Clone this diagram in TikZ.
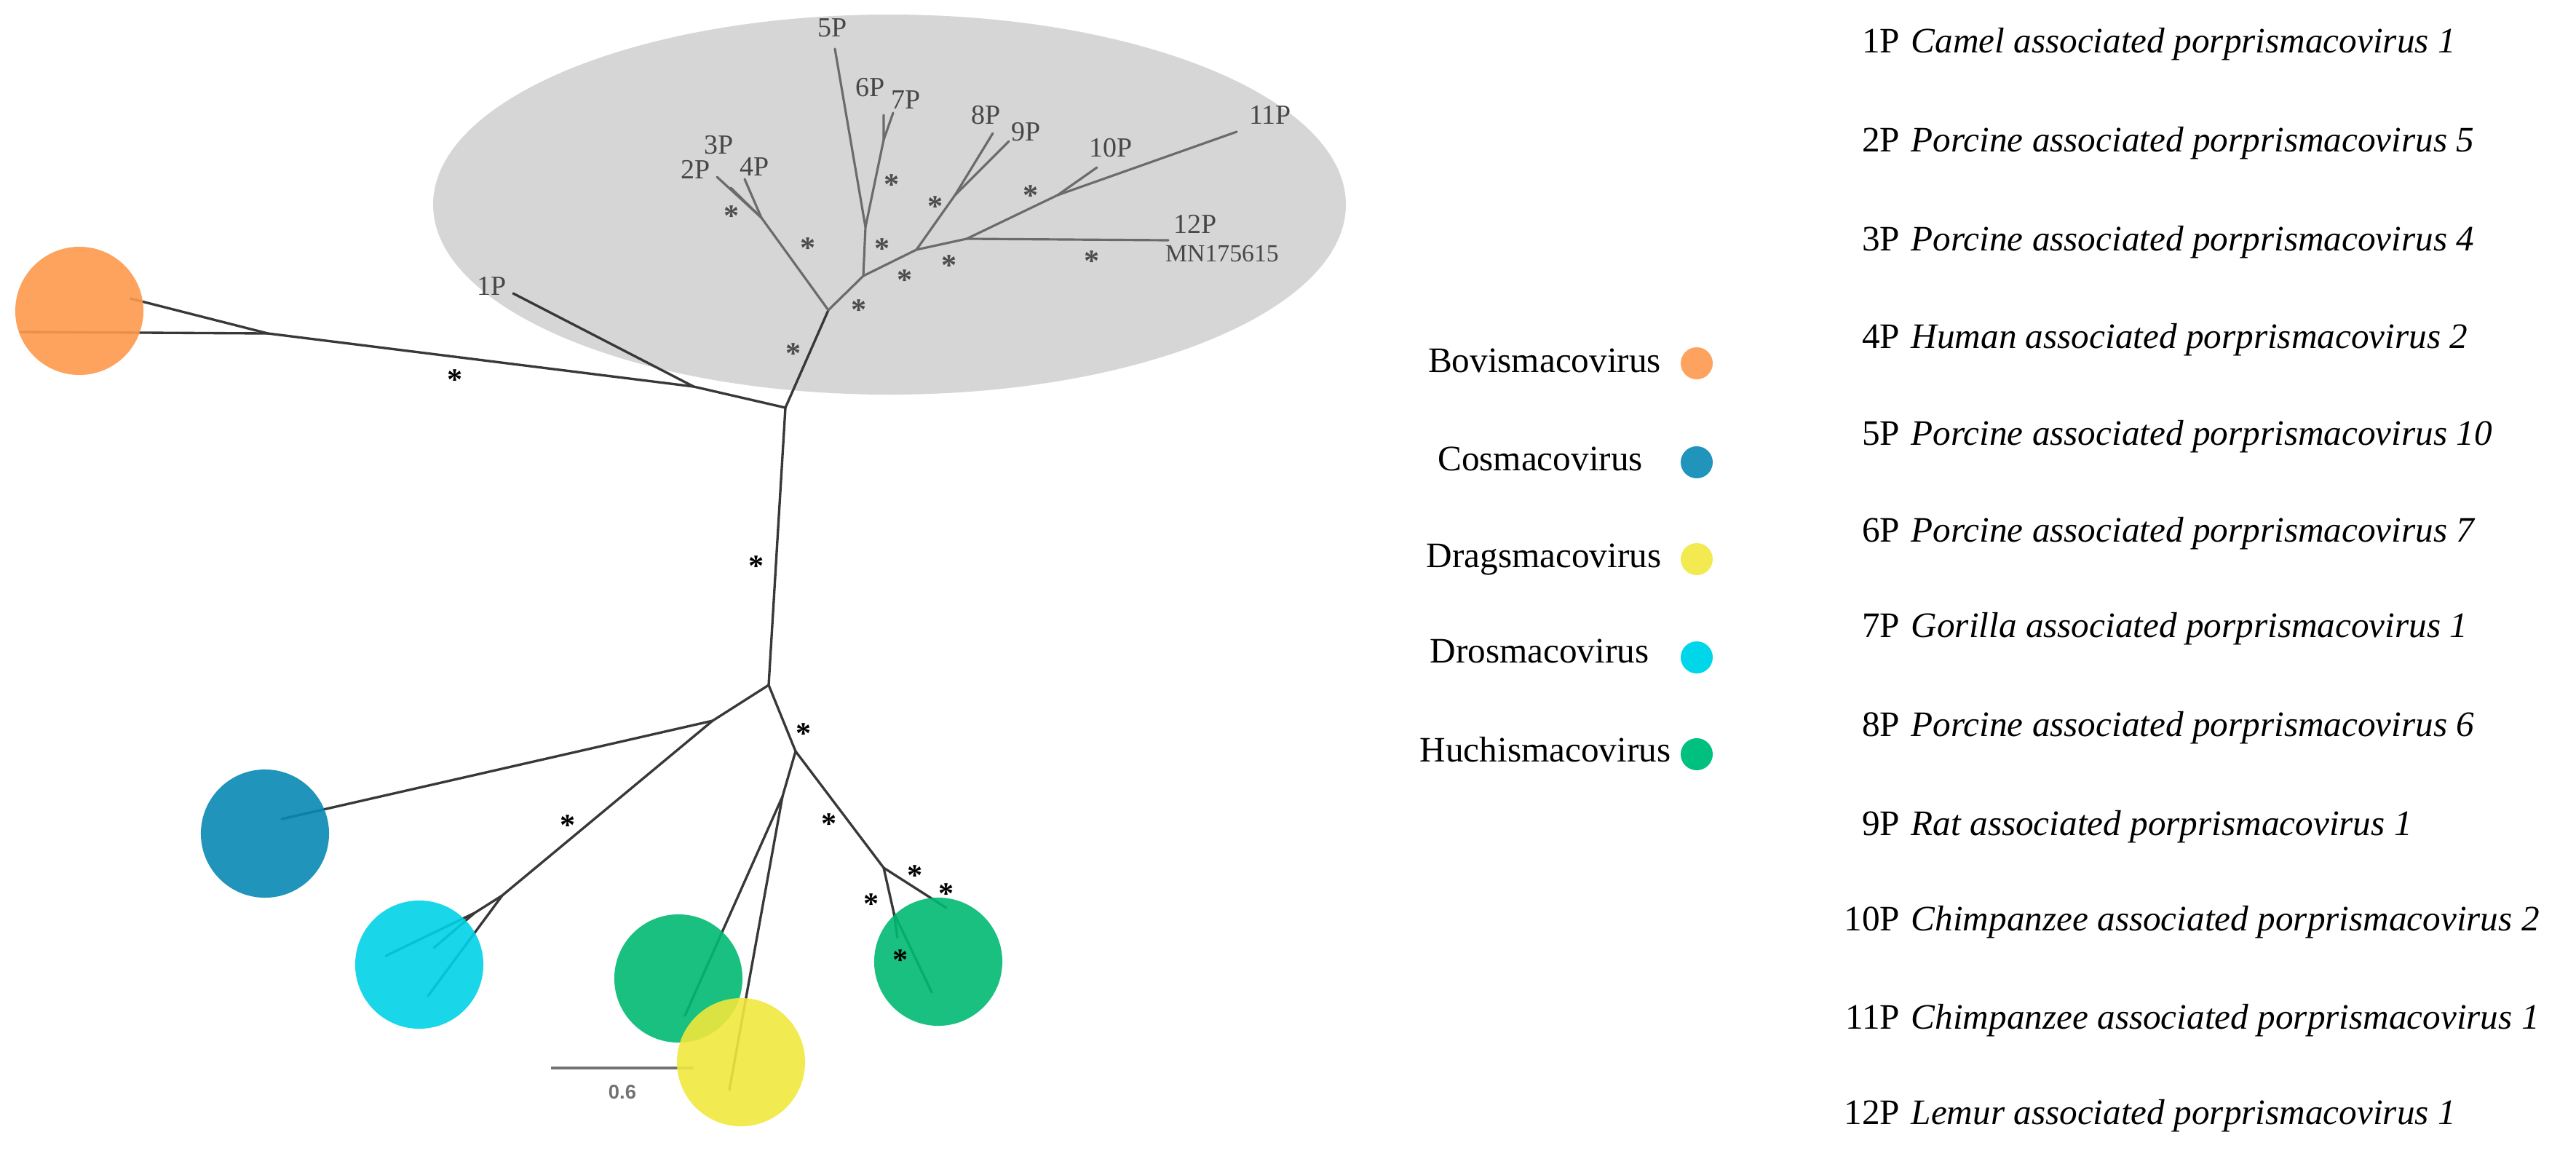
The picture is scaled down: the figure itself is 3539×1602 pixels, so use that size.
\documentclass[tikz,border=0pt]{standalone}
\usepackage{fontspec}
\setmainfont{Liberation Serif}
\newfontfamily\barfont{Liberation Sans}
\definecolor{ellgray}{HTML}{D6D6D6}
\definecolor{cBovis}{RGB}{253,153,77}
\definecolor{cCos}{RGB}{8,136,179}
\definecolor{cDrag}{RGB}{240,232,61}
\definecolor{cDros}{RGB}{0,209,231}
\definecolor{cHuch}{RGB}{0,185,114}
\definecolor{lBovis}{RGB}{253,163,95}
\definecolor{lCos}{RGB}{33,148,187}
\definecolor{lDrag}{RGB}{242,234,80}
\definecolor{lDros}{RGB}{0,214,233}
\definecolor{lHuch}{RGB}{0,192,128}
\begin{document}
\begin{tikzpicture}[x=0.01cm,y=-0.01cm,
  inbr/.style={draw=black!58,line width=0.9pt,line cap=round},
  outbr/.style={draw=black!78,line width=0.95pt,line cap=round},
  tiplbl/.style={font=\fontsize{10.8}{12}\selectfont,text=black!72,inner sep=0pt},
  astin/.style={font=\fontsize{12}{12}\selectfont\bfseries,text=black!70,inner sep=0pt},
  astout/.style={font=\fontsize{12}{12}\selectfont\bfseries,text=black,inner sep=0pt},
  clade/.style={circle,minimum size=1.76cm,inner sep=0pt,fill opacity=0.9},
  legdot/.style={circle,minimum size=0.44cm,inner sep=0pt},
  legtxt/.style={font=\fontsize{14}{16}\selectfont,anchor=base,inner sep=0pt},
  numtxt/.style={font=\fontsize{14}{16}\selectfont,anchor=base east,inner sep=0pt},
  spctxt/.style={font=\fontsize{14}{16}\selectfont\itshape,anchor=base west,inner sep=0pt}]
\useasboundingbox (0,0) rectangle (3539,1602);
% grey clade ellipse
\fill[ellgray] (1222,281) ellipse [x radius=627, y radius=261];
% ---------- tree coordinates ----------
\coordinate (r1) at (1079,560);
\coordinate (p1j) at (953,531);
\coordinate (bj) at (368,458);
\coordinate (bt1) at (179,410);
\coordinate (bt2) at (28,456);
\coordinate (t1) at (705,403);
\coordinate (na) at (1138,426);
\coordinate (n234) at (1046,299);
\coordinate (t2) at (985,243);
\coordinate (t3) at (1004,258);
\coordinate (t4) at (1023,246);
\coordinate (nb) at (1186,379);
\coordinate (n567) at (1189,312);
\coordinate (t5) at (1147,67);
\coordinate (n67) at (1214,192);
\coordinate (t6) at (1214,158);
\coordinate (t7) at (1227,155);
\coordinate (nc) at (1259,343);
\coordinate (n89) at (1312,268);
\coordinate (t8) at (1364,183);
\coordinate (t9) at (1386,194);
\coordinate (nd) at (1328,328);
\coordinate (t12) at (1605,330);
\coordinate (ne) at (1453,268);
\coordinate (t10) at (1507,230);
\coordinate (t11) at (1699,181);
\coordinate (r2) at (1056,941);
\coordinate (nf) at (979,990);
\coordinate (tcos) at (387,1125);
\coordinate (ng) at (690,1230);
\coordinate (nh) at (652,1254);
\coordinate (td1) at (530,1313);
\coordinate (td2) at (596,1302);
\coordinate (td3) at (588,1368);
\coordinate (ni) at (1093,1032);
\coordinate (nk) at (1075,1094);
\coordinate (th1) at (941,1395);
\coordinate (tdr) at (1002,1497);
\coordinate (nj) at (1214,1192);
\coordinate (nl) at (1228,1254);
\coordinate (th2) at (1233,1288);
\coordinate (th3) at (1280,1363);
\coordinate (th4) at (1300,1247);
\coordinate (sb1) at (757,1467);
\coordinate (sb2) at (953,1467);
% ---------- branches ----------
\draw[outbr] (r1) -- (p1j) -- (bj) -- (bt1);
\draw[outbr] (bj) -- (bt2);
\draw[outbr] (p1j) -- (t1);
\draw[outbr] (r1) -- (na);
\draw[inbr] (na) -- (n234) -- (t2);
\draw[inbr] (n234) -- (t3);
\draw[inbr] (n234) -- (t4);
\draw[inbr] (na) -- (nb) -- (n567) -- (t5);
\draw[inbr] (n567) -- (n67) -- (t6);
\draw[inbr] (n67) -- (t7);
\draw[inbr] (nb) -- (nc) -- (n89) -- (t8);
\draw[inbr] (n89) -- (t9);
\draw[inbr] (nc) -- (nd) -- (t12);
\draw[inbr] (nd) -- (ne) -- (t10);
\draw[inbr] (ne) -- (t11);
\draw[outbr] (r1) -- (r2) -- (nf) -- (tcos);
\draw[outbr] (nf) -- (ng) -- (nh) -- (td1);
\draw[outbr] (nh) -- (td2);
\draw[outbr] (ng) -- (td3);
\draw[outbr] (r2) -- (ni) -- (nk) -- (th1);
\draw[outbr] (nk) -- (tdr);
\draw[outbr] (ni) -- (nj) -- (nl) -- (th2);
\draw[outbr] (nl) -- (th3);
\draw[outbr] (nj) -- (th4);
% scale bar
\draw[draw=black!55,line width=1.1pt] (sb1) -- (sb2);
\node[font=\barfont\bfseries\fontsize{7.8}{9}\selectfont,text=black!55,inner sep=0pt] (sblbl) at (855,1500) {0.6};
% ---------- clade circles ----------
\node[clade,fill=cBovis] (cbov) at (109,427) {};
\node[clade,fill=cCos] (ccos) at (364,1145) {};
\node[clade,fill=cDros] (cdros) at (576,1325) {};
\node[clade,fill=cHuch] (chuch1) at (932,1344) {};
\node[clade,fill=cDrag] (cdrag) at (1018,1459) {};
\node[clade,fill=cHuch] (chuch2) at (1289,1321) {};
% ---------- tip labels ----------
\node[tiplbl] (l1) at (676,393) {1P};
\node[tiplbl] (l2) at (956,233) {2P};
\node[tiplbl] (l3) at (988,199) {3P};
\node[tiplbl] (l4) at (1037,229) {4P};
\node[tiplbl] (l5) at (1144,38) {5P};
\node[tiplbl] (l6) at (1196,120) {6P};
\node[tiplbl] (l7) at (1245,137) {7P};
\node[tiplbl] (l8) at (1355,158) {8P};
\node[tiplbl] (l9) at (1410,181) {9P};
\node[tiplbl] (l10) at (1526,203) {10P};
\node[tiplbl] (l11) at (1745,158) {11P};
\node[tiplbl] (l12) at (1642,308) {12P};
\node[tiplbl,font=\fontsize{9.6}{11}\selectfont] (lmn) at (1679,348) {MN175615};
% ---------- support asterisks ----------
\node[astin] (a1) at (1005,297) {*};
\node[astin] (a2) at (1110,341) {*};
\node[astin] (a3) at (1225,254) {*};
\node[astin] (a4) at (1212,342) {*};
\node[astin] (a5) at (1285,284) {*};
\node[astin] (a6) at (1416,269) {*};
\node[astin] (a7) at (1304,365) {*};
\node[astin] (a8) at (1243,385) {*};
\node[astin] (a9) at (1180,426) {*};
\node[astin] (a10) at (1090,486) {*};
\node[astin] (a11) at (1500,359) {*};
\node[astout] (b1) at (625,522) {*};
\node[astout] (b2) at (1039,778) {*};
\node[astout] (b3) at (780,1134) {*};
\node[astout] (b4) at (1104,1008) {*};
\node[astout] (b5) at (1139,1132) {*};
\node[astout] (b6) at (1257,1203) {*};
\node[astout] (b7) at (1300,1228) {*};
\node[astout] (b8) at (1197,1242) {*};
\node[astout] (b9) at (1237,1319) {*};
% ---------- legend ----------
\node[legtxt] (gbov) at (2122,511) {Bovismacovirus};
\node[legtxt] (gcos) at (2116,646) {Cosmacovirus};
\node[legtxt] (gdrag) at (2121,779) {Dragsmacovirus};
\node[legtxt] (gdros) at (2115,910) {Drosmacovirus};
\node[legtxt] (ghuch) at (2123,1046) {Huchismacovirus};
\node[legdot,fill=lBovis] (dbov) at (2331,499) {};
\node[legdot,fill=lCos] (dcos) at (2331,635) {};
\node[legdot,fill=lDrag] (ddrag) at (2331,768) {};
\node[legdot,fill=lDros] (ddros) at (2331,903) {};
\node[legdot,fill=lHuch] (dhuch) at (2331,1036) {};
% ---------- species list ----------
\node[numtxt] (n1) at (2611,72) {1P};
\node[spctxt] (s1) at (2625,72) {Camel associated porprismacovirus 1};
\node[numtxt] (n2) at (2611,208) {2P};
\node[spctxt] (s2) at (2625,208) {Porcine associated porprismacovirus 5};
\node[numtxt] (n3) at (2611,344) {3P};
\node[spctxt] (s3) at (2625,344) {Porcine associated porprismacovirus 4};
\node[numtxt] (n4) at (2611,478) {4P};
\node[spctxt] (s4) at (2625,478) {Human associated porprismacovirus 2};
\node[numtxt] (n5) at (2611,611) {5P};
\node[spctxt] (s5) at (2625,611) {Porcine associated porprismacovirus 10};
\node[numtxt] (n6) at (2611,744) {6P};
\node[spctxt] (s6) at (2625,744) {Porcine associated porprismacovirus 7};
\node[numtxt] (n7) at (2611,875) {7P};
\node[spctxt] (s7) at (2625,875) {Gorilla associated porprismacovirus 1};
\node[numtxt] (n8) at (2611,1011) {8P};
\node[spctxt] (s8) at (2625,1011) {Porcine associated porprismacovirus 6};
\node[numtxt] (n9) at (2611,1147) {9P};
\node[spctxt] (s9) at (2625,1147) {Rat associated porprismacovirus 1};
\node[numtxt] (n10) at (2611,1278) {10P};
\node[spctxt] (s10) at (2625,1278) {Chimpanzee associated porprismacovirus 2};
\node[numtxt] (n11) at (2611,1413) {11P};
\node[spctxt] (s11) at (2625,1413) {Chimpanzee associated porprismacovirus 1};
\node[numtxt] (n12) at (2611,1544) {12P};
\node[spctxt] (s12) at (2625,1544) {Lemur associated porprismacovirus 1};
\end{tikzpicture}
\end{document}
